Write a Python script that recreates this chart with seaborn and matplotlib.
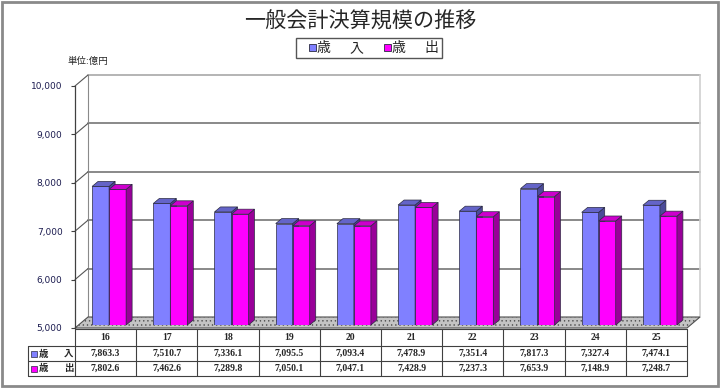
import matplotlib
matplotlib.use("Agg")
import numpy as np
import pandas as pd
import seaborn as sns
import matplotlib.pyplot as plt
from matplotlib.patches import Polygon, Rectangle
from matplotlib.lines import Line2D
from matplotlib.transforms import (ScaledTranslation, blended_transform_factory,
                                   Bbox, TransformedBbox)

# ---------------- data ----------------
years = ['16', '17', '18', '19', '20', '21', '22', '23', '24', '25']
revenue = [7863.3, 7510.7, 7336.1, 7095.5, 7093.4, 7478.9, 7351.4, 7817.3, 7327.4, 7474.1]
expenditure = [7802.6, 7462.6, 7289.8, 7050.1, 7047.1, 7428.9, 7237.3, 7653.9, 7148.9, 7248.7]
series = ['歳　入', '歳　出']
yticks = [5000, 6000, 7000, 8000, 9000, 10000]
title = '一般会計決算規模の推移'
unit_label = '単位:億円'

front_cols = ['#8080FF', '#FF00FF']
top_cols = ['#6464C8', '#CC00CC']
side_cols = ['#4B4B99', '#990099']

df = pd.DataFrame({
    '年度': years * 2,
    '区分': [series[0]] * len(years) + [series[1]] * len(years),
    '金額': revenue + expenditure,
})

sns.set_theme(style='white')
plt.rcParams['font.family'] = ['Noto Sans CJK JP', 'DejaVu Sans']
plt.rcParams['hatch.color'] = '#a9a9a9'
plt.rcParams['hatch.linewidth'] = 0.5

W, H = 720, 388
DPI = 100
fig = plt.figure(figsize=(W / DPI, H / DPI), dpi=DPI)
fig.patch.set_facecolor('white')


def fx(px):
    return px / W


def fy(py):
    return 1 - py / H


AX_L, AX_R, AX_T, AX_B = 75, 687, 86, 328
ax = fig.add_axes([fx(AX_L), fy(AX_B), (AX_R - AX_L) / W, (AX_B - AX_T) / H])
ax.set_facecolor('none')

sns.barplot(data=df, x='年度', y='金額', hue='区分', order=years, hue_order=series,
            palette=front_cols, width=0.556, errorbar=None, edgecolor='#2a2a40',
            linewidth=0.5, legend=False, ax=ax, saturation=1)

ax.set_xlim(-0.5, 9.5)
ax.set_ylim(yticks[0], yticks[-1])

# pixel -> data scale
sx = (AX_R - AX_L) / 10.0
sy = (AX_B - AX_T) / (yticks[-1] - yticks[0])

# depth of the chart box and of the bars (pixels)
DX, DY = 13, 11
FX, FY = 3.5, 3.0      # bar front plane offset
BX, BY = 6.0, 5.0      # bar depth

Dxu, Dyu = DX / sx, DY / sy
bxu, byu = BX / sx, BY / sy

off_front = ScaledTranslation(FX / DPI, FY / DPI, fig.dpi_scale_trans)
off_back = ScaledTranslation(DX / DPI, DY / DPI, fig.dpi_scale_trans)
bar_tr = ax.transData + off_front
clipbox = TransformedBbox(Bbox([[0, 0], [1, 1]]), ax.transAxes + off_front)

# back wall
x0, x1 = -0.5, 9.5
ymin, ymax = yticks[0], yticks[-1]
ax.add_patch(Rectangle((0, 0), 1, 1, transform=ax.transAxes + off_back,
                       facecolor='white', edgecolor='none', clip_on=False, zorder=0.1))
gtr = blended_transform_factory(ax.transAxes, ax.transData) + off_back
for yv in yticks[1:-1]:
    ax.add_line(Line2D([0, 1], [yv, yv], transform=gtr, color='#808080', lw=1.3,
                       clip_on=False, zorder=0.3))
ax.add_line(Line2D([0, 1], [ymax, ymax], transform=gtr, color='#a8a8a8', lw=1.2,
                   clip_on=False, zorder=0.3))
ax.add_line(Line2D([1, 1], [ymin, ymax], transform=gtr, color='#cfcfcf', lw=1.2,
                   clip_on=False, zorder=0.3))
ax.add_line(Line2D([0, 0], [ymin, ymax], transform=gtr, color='#8a8a8a', lw=0.8,
                   clip_on=False, zorder=0.3))
# left wall diagonals
for yv in yticks[1:]:
    ax.add_line(Line2D([x0, x0 + Dxu], [yv, yv + Dyu], color='#555555', lw=0.8,
                       clip_on=False, zorder=0.3))

# floor
floor = Polygon([(x0, ymin), (x1, ymin), (x1 + Dxu, ymin + Dyu), (x0 + Dxu, ymin + Dyu)],
                closed=True, facecolor='#c4c4c4', edgecolor='#505050', lw=0.8,
                hatch='....', clip_on=False, zorder=0.5)
ax.add_patch(floor)

# bars with 3D side/top
for si, cont in enumerate(ax.containers):
    for bar in cont.patches:
        bar.set_transform(bar_tr)
        bar.set_clip_box(clipbox)
        bar.set_zorder(2 + si * 0.2)
        bx0 = bar.get_x()
        bx1 = bx0 + bar.get_width()
        v = bar.get_y() + bar.get_height()
        side = Polygon([(bx1, ymin), (bx1, v), (bx1 + bxu, v + byu), (bx1 + bxu, ymin + byu)],
                       closed=True, transform=bar_tr, facecolor=side_cols[si],
                       edgecolor='#2a2a40', lw=0.5, clip_on=False, zorder=2.1 + si * 0.2)
        top = Polygon([(bx0, v), (bx1, v), (bx1 + bxu, v + byu), (bx0 + bxu, v + byu)],
                      closed=True, transform=bar_tr, facecolor=top_cols[si],
                      edgecolor='#2a2a40', lw=0.5, clip_on=False, zorder=2.1 + si * 0.2)
        ax.add_patch(side)
        ax.add_patch(top)

# axes styling
for s in ['top', 'right', 'bottom']:
    ax.spines[s].set_visible(False)
ax.spines['left'].set_color('#404040')
ax.spines['left'].set_linewidth(0.9)
ax.set_yticks(yticks)
ax.set_yticklabels([f'{v:,}' for v in yticks], fontsize=6.5, color='#1c1c50',
                   family=['DejaVu Sans'])
ax.tick_params(axis='y', left=True, length=3, width=0.8, color='#404040', pad=6)
ax.set_xticks([])
ax.set_xlabel('')
ax.set_ylabel('')
ax.grid(False)

# ---------------- data table ----------------
tt = blended_transform_factory(ax.transData, fig.transFigure)
rows = [329, 346, 361, 376]
lc = '#404040'
xleft = ax.transData.inverted().transform((28, 0))[0]
for i in range(len(years) + 1):
    fig.add_artist(Line2D([i - 0.5, i - 0.5], [fy(rows[0]), fy(rows[-1])], transform=tt,
                          color=lc, lw=0.8))
fig.add_artist(Line2D([x0, x1], [fy(rows[0]), fy(rows[0])], transform=tt, color=lc, lw=0.8))
for r in rows[1:]:
    fig.add_artist(Line2D([xleft, x1], [fy(r), fy(r)], transform=tt, color=lc, lw=0.8))
fig.add_artist(Line2D([xleft, xleft], [fy(rows[1]), fy(rows[-1])], transform=tt, color=lc, lw=0.8))

serif = ['Liberation Serif', 'DejaVu Serif']
tfs = 7.0
for i, yr in enumerate(years):
    fig.text(i, fy(338), yr, transform=tt, ha='center', va='center', fontsize=tfs,
             fontweight='bold', family=serif)
    fig.text(i, fy(353.5), f'{revenue[i]:,.1f}', transform=tt, ha='center', va='center',
             fontsize=tfs, fontweight='bold', family=serif)
    fig.text(i, fy(368.5), f'{expenditure[i]:,.1f}', transform=tt, ha='center', va='center',
             fontsize=tfs, fontweight='bold', family=serif)

for k, (lab, rc) in enumerate(zip(series, [353.5, 368.5])):
    fig.add_artist(Rectangle((fx(30.5), fy(rc + 3)), 6 / W, 6 / H, transform=fig.transFigure,
                             facecolor=front_cols[k], edgecolor='#2a2a40', lw=0.5))
    fig.text(fx(38.5), fy(rc), lab[0], ha='left', va='center', fontsize=6.8, fontweight='bold')
    fig.text(fx(73.5), fy(rc), lab[-1], ha='right', va='center', fontsize=6.8, fontweight='bold')

# ---------------- title, legend, unit ----------------
fig.text(fx(360.5), fy(22), title, ha='center', va='center', fontsize=15.2)
fig.text(fx(68), fy(61), unit_label, ha='left', va='center', fontsize=6.8)

fig.add_artist(Rectangle((fx(296), fy(58)), 146 / W, 20 / H, transform=fig.transFigure,
                         facecolor='white', edgecolor='#555555', lw=1.0))
leg_sq = [309, 384]
for k, lab in enumerate(series):
    sqx = leg_sq[k]
    fig.add_artist(Rectangle((fx(sqx), fy(51)), 6.5 / W, 6.5 / H, transform=fig.transFigure,
                             facecolor=front_cols[k], edgecolor='#2a2a40', lw=0.6))
    fig.text(fx(sqx + 8), fy(48), lab[0], ha='left', va='center', fontsize=10)
    fig.text(fx(sqx + 54), fy(48), lab[-1], ha='right', va='center', fontsize=10)

# outer frame
fig.add_artist(Rectangle((fx(1.5), fy(386)), 716 / W, 384.5 / H, transform=fig.transFigure,
                         facecolor='none', edgecolor='#8a8a8a', lw=2.0))

fig.savefig('out.png', dpi=DPI, facecolor='white')
